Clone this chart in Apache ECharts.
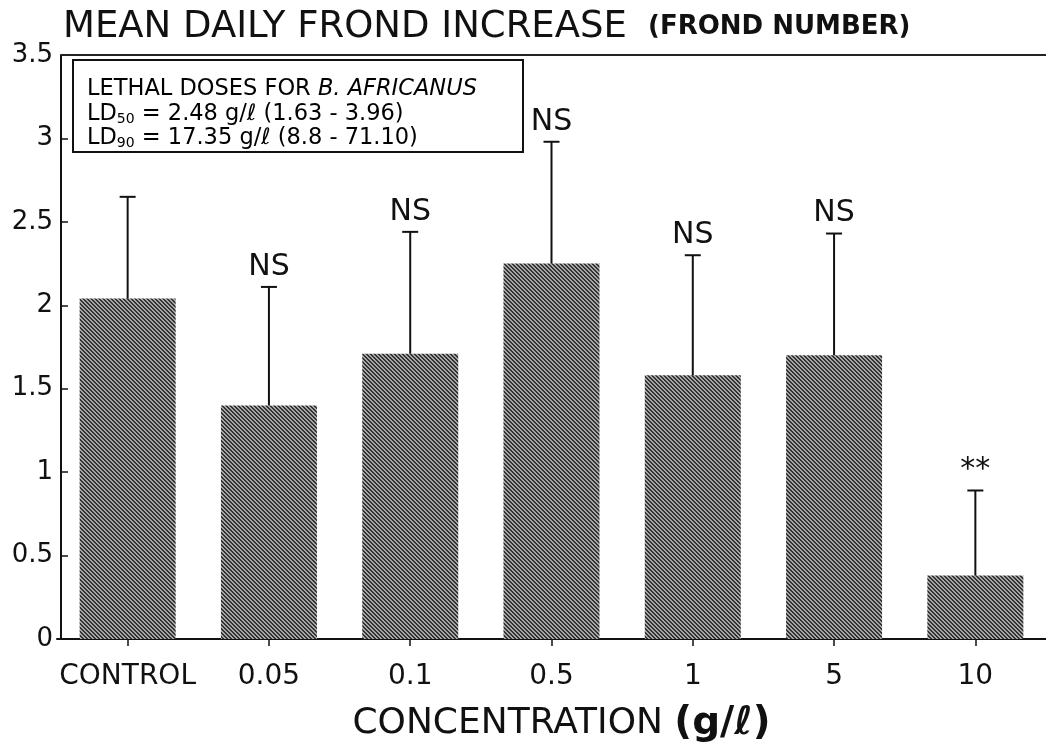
<!DOCTYPE html>
<html>
<head>
<meta charset="utf-8">
<script src="https://cdn.jsdelivr.net/npm/echarts@6/dist/echarts.min.js"></script>
<style>
  html, body { margin: 0; padding: 0; background: #ffffff; }
  #chart { width: 1046px; height: 748px; }
</style>
</head>
<body>
<div id="chart"></div>
<script>
// Concentration groups (g/ℓ)
const categories = ['CONTROL', '0.05', '0.1', '0.5', '1', '5', '10'];
// Mean daily frond increase (frond number)
const meanIncrease = [2.04, 1.40, 1.71, 2.25, 1.58, 1.70, 0.38];
// Upper end of the error bar (mean + SD)
const upperError = [2.65, 2.11, 2.44, 2.98, 2.30, 2.43, 0.89];
// Significance versus control
const significance = ['', 'NS', 'NS', 'NS', 'NS', 'NS', '**'];

const FONT = '"DejaVu Sans", "Liberation Sans", sans-serif';

// Diagonal hatching used to fill the bars
function hatchPattern() {
  const c = document.createElement('canvas');
  c.width = 4; c.height = 4;
  const g = c.getContext('2d');
  g.fillStyle = '#a6a6a6';
  g.fillRect(0, 0, 4, 4);
  g.fillStyle = '#333333';
  for (let i = 0; i < 4; i++) {
    g.fillRect(i, i, 1, 1);
    g.fillRect((i + 1) % 4, i, 1, 1);
  }
  return c;
}

const chart = echarts.init(document.getElementById('chart'), null, { renderer: 'canvas' });

const errorData = categories.map((c, i) => [i, meanIncrease[i], upperError[i]]);

const option = {
  animation: false,
  backgroundColor: '#ffffff',
  grid: { left: 57, right: -3, top: 55, bottom: 105, containLabel: false },
  xAxis: {
    type: 'category',
    data: categories,
    axisLine: { show: true, lineStyle: { color: '#111', width: 2 } },
    axisTick: { show: true, alignWithLabel: true, inside: false, length: 7, lineStyle: { color: '#111', width: 1.5 } },
    axisLabel: { color: '#111', fontFamily: FONT, fontSize: 28, margin: 24, interval: 0 },
    name: '{a|CONCENTRATION }{b|(g/ℓ)}',
    nameLocation: 'middle',
    nameGap: 65,
    nameTextStyle: {
      padding: [0, 0, 0, 20],
      rich: {
        a: { fontFamily: FONT, fontSize: 36, color: '#111' },
        b: { fontFamily: FONT, fontSize: 39, fontWeight: 'bold', color: '#111' }
      }
    }
  },
  yAxis: {
    type: 'value',
    min: 0,
    max: 3.5,
    interval: 0.5,
    offset: -4,
    splitLine: { show: false },
    axisLine: { show: true, lineStyle: { color: '#111', width: 2 } },
    axisTick: { show: true, inside: true, length: 7, lineStyle: { color: '#111', width: 1.5 } },
    axisLabel: { color: '#111', fontFamily: FONT, fontSize: 26, margin: 8 }
  },
  series: [
    {
      type: 'bar',
      data: meanIncrease,
      barWidth: 96,
      itemStyle: { color: { image: hatchPattern(), repeat: 'repeat' } },
      z: 2
    },
    {
      type: 'custom',
      data: errorData,
      encode: { x: 0, y: [1, 2] },
      z: 3,
      renderItem: function (params, api) {
        const i = api.value(0);
        const base = api.coord([i, api.value(1)]);
        const top = api.coord([i, api.value(2)]);
        const x = base[0];
        const children = [
          { type: 'line', shape: { x1: x, y1: base[1], x2: x, y2: top[1] }, style: { stroke: '#111', lineWidth: 2 } },
          { type: 'line', shape: { x1: x - 8, y1: top[1], x2: x + 8, y2: top[1] }, style: { stroke: '#111', lineWidth: 2 } }
        ];
        const lab = significance[params.dataIndex];
        if (lab) {
          children.push({
            type: 'text',
            style: {
              text: lab,
              x: x,
              y: top[1] - 20,
              align: 'center',
              verticalAlign: 'middle',
              font: '30px ' + FONT,
              fill: '#111'
            }
          });
        }
        return { type: 'group', children: children };
      }
    }
  ],
  graphic: [
    // top frame line
    { type: 'line', shape: { x1: 61, y1: 55, x2: 1046, y2: 55 }, style: { stroke: '#222', lineWidth: 2 }, z: 10 },
    // chart title
    {
      type: 'text', left: 63, top: 9, z: 10,
      style: { text: 'MEAN DAILY FROND INCREASE', font: '37px ' + FONT, fill: '#111' }
    },
    {
      type: 'text', left: 648, top: 14, z: 10,
      style: { text: '(FROND NUMBER)', font: 'bold 26px ' + FONT, fill: '#111' }
    },
    // lethal dose box
    {
      type: 'rect', shape: { x: 73, y: 60, width: 450, height: 92 },
      style: { fill: '#ffffff', stroke: '#111', lineWidth: 2 }, z: 10
    },
    {
      type: 'text', left: 87, top: 78, z: 11,
      style: {
        text: '{t|LETHAL DOSES FOR }{i|B. AFRICANUS}\n{t|LD}{s|50}{t| = 2.48 g/ℓ (1.63 - 3.96)}\n{t|LD}{s|90}{t| = 17.35 g/ℓ (8.8 - 71.10)}',
        rich: {
          t: { fontFamily: FONT, fontSize: 22.5, lineHeight: 24.5, color: '#111' },
          i: { fontFamily: FONT, fontSize: 22.5, fontStyle: 'italic', lineHeight: 24.5, color: '#111' },
          s: { fontFamily: FONT, fontSize: 14, lineHeight: 16, verticalAlign: 'bottom', color: '#111' }
        }
      }
    }
  ]
};

chart.setOption(option);
</script>
</body>
</html>
